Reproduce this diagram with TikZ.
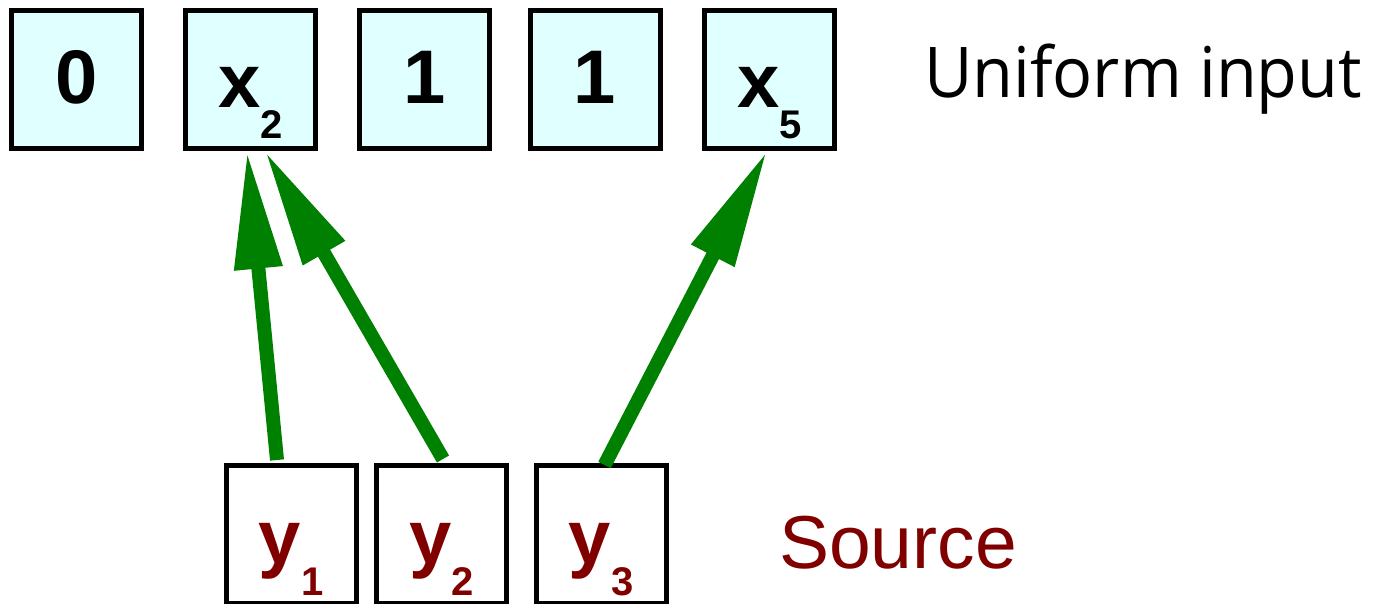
\documentclass[tikz,border=0pt]{standalone}
\usepackage{fontspec}
\setmainfont{Liberation Sans}
\newfontfamily\uifont[FakeStretch=0.95]{Open Sans}
\usetikzlibrary{arrows.meta}
\definecolor{arrgreen}{RGB}{0,128,0}
\definecolor{boxfill}{RGB}{224,255,255}
\definecolor{srcred}{RGB}{128,0,0}
\newcommand\subsc[2]{\raisebox{#1}{\fontsize{40}{40}\selectfont #2}}
\begin{document}
\begin{tikzpicture}[x=1pt,y=-1pt,
  cell/.style={draw=black,line width=5pt,minimum width=130pt,minimum height=138pt,inner sep=0pt},
  ucell/.style={cell,fill=boxfill},
  scell/.style={cell,fill=white},
  big/.style={anchor=base,font=\fontsize{76}{76}\selectfont\bfseries,inner sep=0pt},
  arr/.style={draw=arrgreen,line width=14pt,-{Triangle[length=118pt,width=45pt]}},
]
\path[use as bounding box] (0,0) rectangle (1379,604);
% top row
\node[ucell] (b1) at (76.5,79.5) {};
\node[ucell] (x2) at (250.5,79.5) {};
\node[ucell] (b3) at (424.5,79.5) {};
\node[ucell] (b4) at (595,79.5) {};
\node[ucell] (x5) at (769.5,79.5) {};
\node[big] (t1) at ([yshift=-24.5pt]b1.center) {0};
\node[big] (t2) at ([yshift=-28.5pt]x2.center) {x\subsc{-31pt}{2}};
\node[big] (t3) at ([yshift=-24.5pt]b3.center) {1};
\node[big] (t4) at ([yshift=-24.5pt]b4.center) {1};
\node[big] (t5) at ([yshift=-28.5pt]x5.center) {x\subsc{-31pt}{5}};
% bottom row
\node[scell] (y1) at (291,534.5) {};
\node[scell] (y2) at (441.5,534.5) {};
\node[scell] (y3) at (601,534.5) {};
\node[big,text=srcred] (s1) at ([yshift=-28.5pt]y1.center) {y\subsc{-32pt}{1}};
\node[big,text=srcred] (s2) at ([yshift=-28.5pt]y2.center) {y\subsc{-32pt}{2}};
\node[big,text=srcred] (s3) at ([yshift=-28.5pt]y3.center) {y\subsc{-32pt}{3}};
% labels
\node[anchor=base west,inner sep=0pt,font=\uifont\fontsize{70}{70}\selectfont] (ui) at (924,98) {Uniform input};
\node[anchor=base west,inner sep=0pt,text=srcred,font=\fontsize{75}{75}\selectfont] (src) at (779,568) {Source};
% arrows
\draw[arr] ([xshift=-14pt,yshift=3pt]y1.north) -- ([xshift=-3.5pt]x2.south);
\draw[arr] ([xshift=1.5pt,yshift=4pt]y2.north) -- ([xshift=14.5pt]x2.south);
\draw[arr] ([xshift=3.5pt,yshift=-2pt]y3.north) -- ([xshift=-2.5pt]x5.south);
\end{tikzpicture}
\end{document}
